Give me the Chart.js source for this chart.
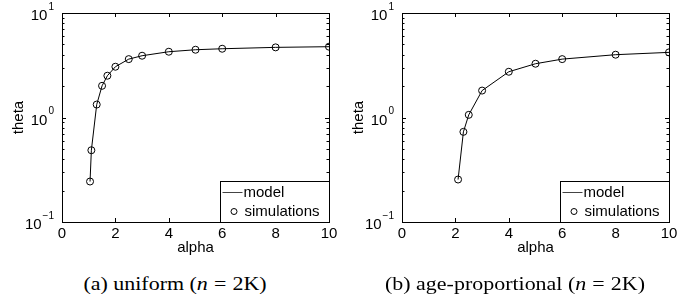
<!DOCTYPE html>
<html>
<head>
<meta charset="utf-8">
<script src="https://cdn.jsdelivr.net/npm/chart.js@4.4.1/dist/chart.umd.min.js"></script>
<style>
  body { margin: 0; background: #fff; width: 699px; height: 301px; position: relative; overflow: hidden; }
  .panel { position: absolute; top: 0; width: 350px; height: 262px; }
  .cap { position: absolute; top: 274px; font-family: "Liberation Serif", "Times New Roman", serif; font-size: 18px; color: #000; white-space: nowrap; transform: translateX(-50%) scaleX(1.22); }
  .cap i { font-style: italic; }
  .cap .eq { margin: 0 5px; }
</style>
</head>
<body>
<div class="panel" style="left:0"><canvas id="chartA"></canvas></div>
<div class="panel" style="left:340px"><canvas id="chartB"></canvas></div>
<div class="cap" style="left:175px">(a) uniform (<i>n</i><span class="eq">=</span>2K)</div>
<div class="cap" style="left:515px">(b) age-proportional (<i>n</i><span class="eq">=</span>2K)</div>
<script>
// uniform
var alphaA = [1.05, 1.1, 1.3, 1.5, 1.7, 2, 2.5, 3, 4, 5, 6, 8, 10];
var thetaA = [0.244, 0.486, 1.33, 2.01, 2.51, 3.06, 3.62, 3.90, 4.26, 4.45, 4.55, 4.69, 4.76];
// age-proportional
var alphaB = [2.1, 2.3, 2.5, 3, 4, 5, 6, 8, 10];
var thetaB = [0.255, 0.729, 1.06, 1.81, 2.74, 3.27, 3.62, 3.99, 4.20];

var xTicks = [0, 2, 4, 6, 8, 10];
var yTicks = [0.1, 1, 10];
var yExp = ['\u22121', '0', '1'];

var FONT = '"Liberation Sans", Arial, sans-serif';

function pts(xs, ys) {
  return xs.map(function (x, i) { return { x: x, y: ys[i] }; });
}

// box, inward ticks, y tick labels, legend
var matlabAxes = {
  id: 'matlabAxes',
  afterDraw: function (chart) {
    var ctx = chart.ctx, a = chart.chartArea;
    var xs = chart.scales.x, ys = chart.scales.y;
    ctx.save();
    ctx.strokeStyle = '#000';
    ctx.lineWidth = 1;
    ctx.strokeRect(Math.round(a.left) + 0.5, Math.round(a.top) + 0.5,
      Math.round(a.right - a.left), Math.round(a.bottom - a.top));

    ctx.beginPath();
    xTicks.forEach(function (v) {
      var px = Math.round(xs.getPixelForValue(v)) + 0.5;
      ctx.moveTo(px, a.bottom); ctx.lineTo(px, a.bottom - 4);
      ctx.moveTo(px, a.top); ctx.lineTo(px, a.top + 4);
    });
    [0.1, 1].forEach(function (dec) {
      for (var k = 1; k <= 10; k++) {
        var v = dec * k;
        var py = Math.round(ys.getPixelForValue(v)) + 0.5;
        var len = (k === 1 || k === 10) ? 4 : 2.5;
        ctx.moveTo(a.left, py); ctx.lineTo(a.left + len, py);
        ctx.moveTo(a.right, py); ctx.lineTo(a.right - len, py);
      }
    });
    ctx.stroke();

    // y labels 10^k
    ctx.fillStyle = '#000';
    ctx.textBaseline = 'middle';
    yTicks.forEach(function (v, i) {
      var py = ys.getPixelForValue(v);
      ctx.font = '10px ' + FONT;
      var ew = ctx.measureText(yExp[i]).width;
      ctx.textAlign = 'left';
      ctx.fillText(yExp[i], a.left - 8 - ew, py - 6);
      ctx.font = '15px ' + FONT;
      ctx.textAlign = 'right';
      ctx.fillText('10', a.left - 9 - ew, py + 3);
    });

    // legend
    var lw = 109, lh = 41;
    var lx = Math.round(a.right - lw) + 0.5, ly = Math.round(a.bottom - lh) + 0.5;
    ctx.fillStyle = '#fff';
    ctx.fillRect(lx, ly, lw, lh);
    ctx.strokeRect(lx, ly, lw, lh);
    ctx.strokeStyle = '#444';
    ctx.beginPath();
    ctx.moveTo(lx + 2, ly + 11); ctx.lineTo(lx + 22, ly + 11);
    ctx.stroke();
    ctx.strokeStyle = '#000';
    ctx.beginPath();
    ctx.arc(lx + 13.5, ly + 30, 3, 0, Math.PI * 2);
    ctx.stroke();
    ctx.fillStyle = '#000';
    ctx.font = '15px ' + FONT;
    ctx.textAlign = 'left';
    ctx.textBaseline = 'middle';
    ctx.fillText('model', lx + 23, ly + 11);
    ctx.fillText('simulations', lx + 24, ly + 30);
    ctx.restore();
  }
};

function makeChart(id, xs, ys) {
  var data = pts(xs, ys);
  return new Chart(document.getElementById(id), {
    type: 'scatter',
    data: {
      datasets: [
        {
          label: 'simulations',
          data: data,
          showLine: false,
          pointStyle: 'circle',
          pointRadius: 3.5,
          pointBorderWidth: 1,
          pointBackgroundColor: 'rgba(0,0,0,0)',
          pointBorderColor: '#000'
        },
        {
          label: 'model',
          data: data,
          showLine: true,
          borderColor: '#000',
          borderWidth: 1,
          pointRadius: 0,
          tension: 0
        }
      ]
    },
    options: {
      responsive: false,
      animation: false,
      events: [],
      layout: { padding: { top: 13, right: 21, left: 0, bottom: 0 } },
      plugins: { legend: { display: false }, tooltip: { enabled: false } },
      scales: {
        x: {
          type: 'linear',
          min: 0, max: 10,
          afterBuildTicks: function (s) { s.ticks = xTicks.map(function (v) { return { value: v }; }); },
          afterFit: function (s) { s.height = 40; },
          grid: { display: false, drawTicks: false },
          border: { display: false },
          ticks: { color: '#000', padding: 3, maxRotation: 0, font: { family: FONT, size: 15 } },
          title: { display: true, text: 'alpha', color: '#000', padding: { top: 0, bottom: 5 }, font: { family: FONT, size: 15 } }
        },
        y: {
          type: 'logarithmic',
          min: 0.1, max: 10,
          afterFit: function (s) { s.width = 62; },
          grid: { display: false, drawTicks: false },
          border: { display: false },
          ticks: { display: false },
          title: { display: true, text: 'theta', color: '#000', padding: { top: 10, bottom: 0 }, font: { family: FONT, size: 15 } }
        }
      }
    },
    plugins: [matlabAxes]
  });
}

function sizeCanvas(id) {
  var c = document.getElementById(id);
  c.width = 350; c.height = 262;
  c.style.width = '350px'; c.style.height = '262px';
}
sizeCanvas('chartA');
sizeCanvas('chartB');
makeChart('chartA', alphaA, thetaA);
makeChart('chartB', alphaB, thetaB);
</script>
</body>
</html>
